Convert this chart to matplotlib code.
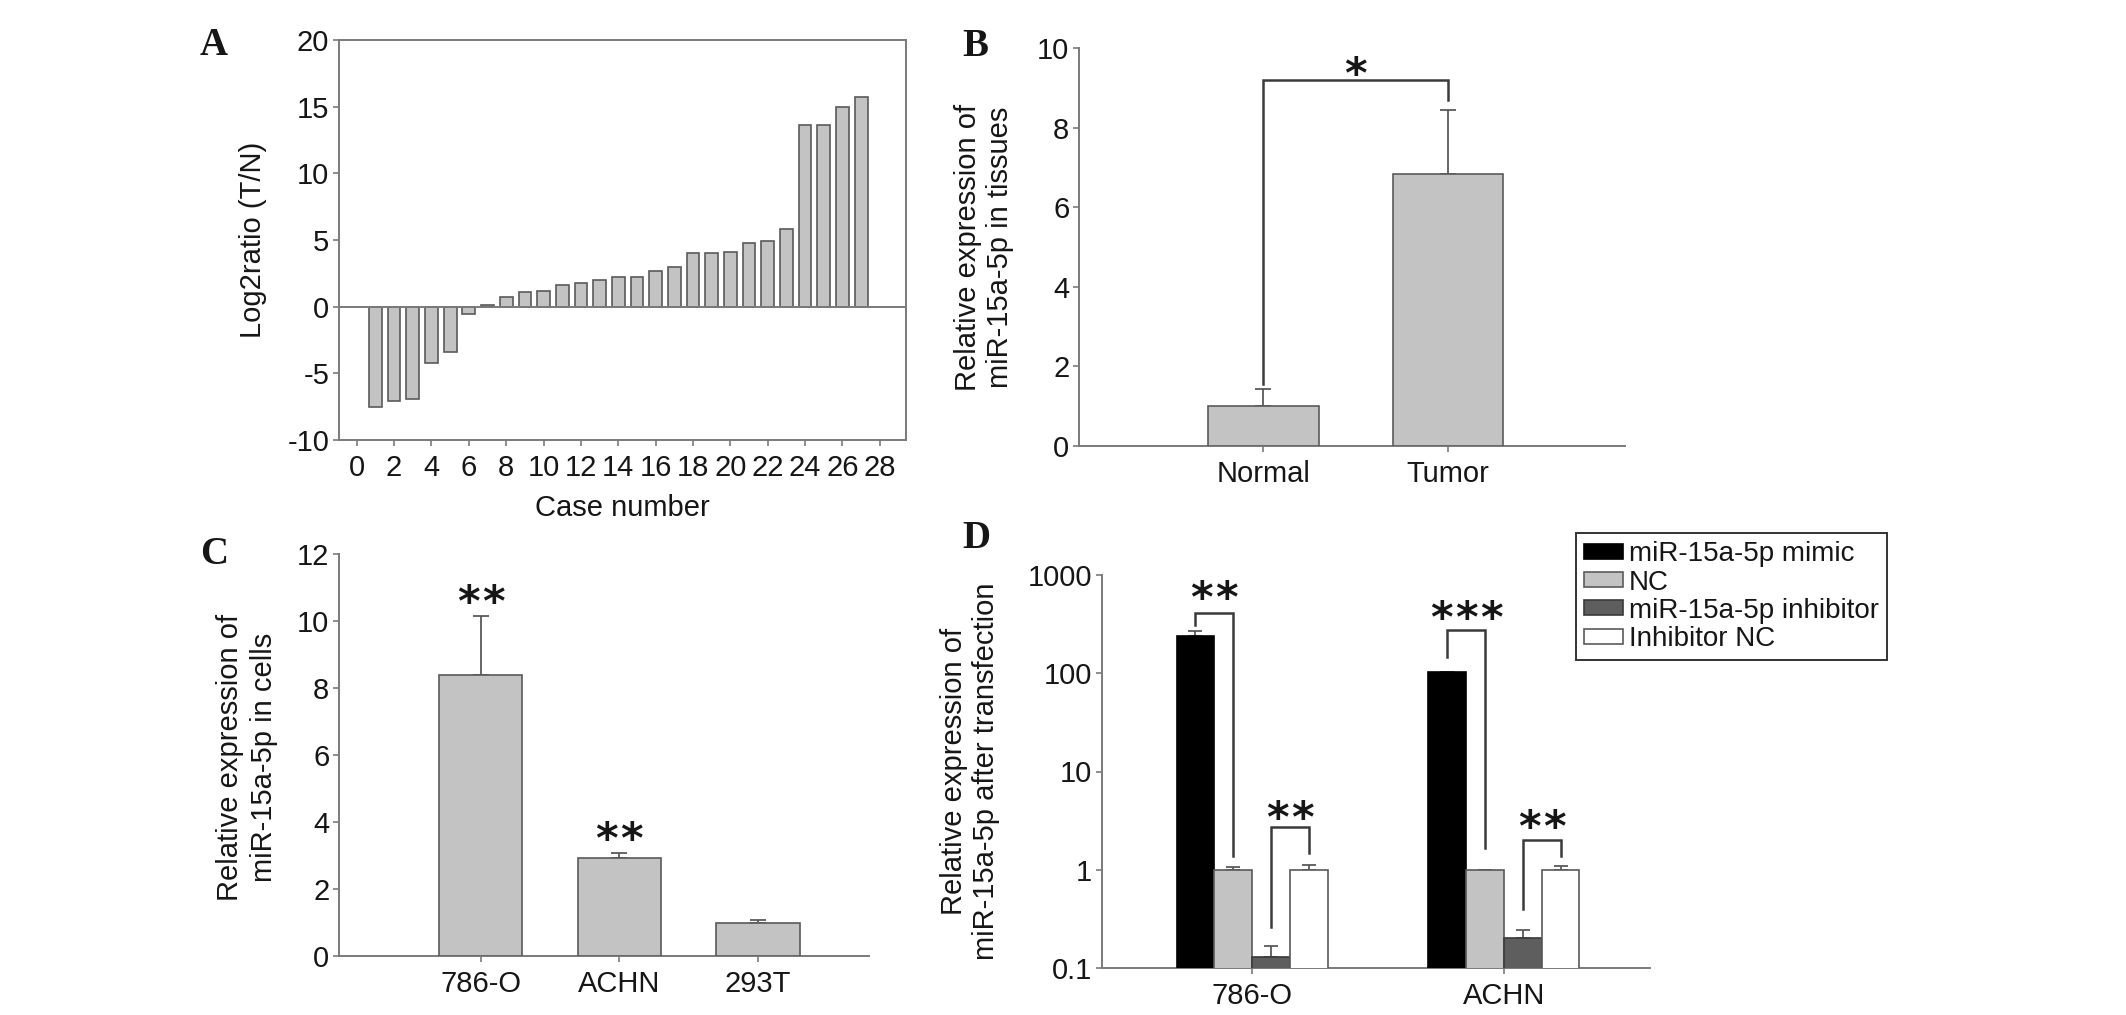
import matplotlib
matplotlib.use("Agg")
import matplotlib.pyplot as plt
from matplotlib.transforms import offset_copy
import numpy as np

plt.rcParams['font.family'] = ['Liberation Sans', 'DejaVu Sans']
plt.rcParams['axes.unicode_minus'] = False

W, H = 2126, 1015

# A: log2 ratio tumour / normal for each case
case_no = list(range(1, 28))
log2_ratio = [-7.5, -7.05, -6.95, -4.2, -3.4, -0.55, 0.1, 0.7, 1.1, 1.2,
              1.65, 1.8, 2.0, 2.2, 2.25, 2.65, 3.0, 4.0, 4.05, 4.1,
              4.8, 4.9, 5.8, 13.6, 13.6, 15.0, 15.7]

# B: tissues
tissues = ["Normal", "Tumor"]
tissue_mean = [1.0, 6.84]
tissue_err = [0.42, 1.6]

# C: cell lines
cells = ["786-O", "ACHN", "293T"]
cell_mean = [8.4, 2.93, 1.0]
cell_err = [1.75, 0.13, 0.06]
cell_sig = [2, 2, 0]

# D: after transfection (log scale)
lines_d = ["786-O", "ACHN"]
groups_d = ["miR-15a-5p mimic", "NC", "miR-15a-5p inhibitor", "Inhibitor NC"]
mimic = [240, 102]
mimic_err = [30, 0]
nc = [1.0, 1.0]
nc_err = [0.07, 0]
inhib = [0.13, 0.204]
inhib_err = [0.037, 0.04]
inhib_nc = [1.0, 1.0]
inhib_nc_err = [0.12, 0.1]

BAR = '#c3c3c3'
EDGE = '#5a5a5a'
SPINE = '#7a7a7a'
TXT = '#161616'
LINE = '#3a3a3a'
FS = 21

fig = plt.figure(figsize=(W / 100, H / 100), dpi=100)


def px_axes(left, top, right, bottom):
    return fig.add_axes([left / W, 1 - bottom / H, (right - left) / W, (bottom - top) / H])


def ftext(x, y, s, **kw):
    fig.text(x / W, 1 - y / H, s, color=TXT, **kw)


def style(ax, box=False):
    for side in ['left', 'bottom', 'top', 'right']:
        ax.spines[side].set_color(SPINE)
        ax.spines[side].set_linewidth(1.4)
    if not box:
        ax.spines['top'].set_visible(False)
        ax.spines['right'].set_visible(False)
    ax.tick_params(direction='out', length=4, width=1.2, color=SPINE,
                   labelsize=FS, labelcolor=TXT, pad=3)


def stars(ax, x, y, n, size=31, gap=18):
    # one asterisk per glyph, spaced apart; shifted so y is the star centre
    for i in range(n):
        dx = (i - (n - 1) / 2) * gap
        tr = offset_copy(ax.transData, fig=fig, x=dx, y=-0.58 * size, units='points')
        ax.text(x, y, "*", transform=tr, ha='center', va='baseline', fontsize=size,
                color=TXT, family='DejaVu Sans', fontweight='bold')


def bracket(ax, x1, y1, x2, y2, ytop):
    ax.plot([x1, x1, x2, x2], [y1, ytop, ytop, y2], color=LINE, lw=1.8, solid_joinstyle='miter')


def up_err(ax, x, y, e, cap=6):
    ax.errorbar(x, y, yerr=[np.zeros(len(e)), e], fmt='none', ecolor=EDGE,
                elinewidth=1.3, capsize=cap, capthick=1.3)


# ---- A ----
axA = px_axes(339, 40, 906, 440)
style(axA, box=True)
axA.bar(case_no, log2_ratio, width=0.68, color=BAR, edgecolor=EDGE, linewidth=1.2, zorder=3)
axA.axhline(0, color=SPINE, lw=1.4, zorder=4)
axA.set_xlim(-0.95, 29.4)
axA.set_ylim(-10, 20)
axA.set_xticks(range(0, 29, 2))
axA.set_yticks(range(-10, 21, 5))
axA.tick_params(axis='x', pad=6)
ftext(214, 45, "A", fontsize=28, fontweight='bold', family='Liberation Serif', ha='center', va='center')
ftext(253, 240, "Log2ratio (T/N)", fontsize=FS, rotation=90, ha='center', va='center')
ftext(622, 508, "Case number", fontsize=FS, ha='center', va='center')

# ---- B ----
axB = px_axes(1079, 48, 1625, 446)
style(axB)
xb = np.arange(1, len(tissues) + 1)
axB.bar(xb, tissue_mean, width=0.6, color=BAR, edgecolor=EDGE, linewidth=1.2, zorder=3)
up_err(axB, xb, tissue_mean, tissue_err, cap=6)
axB.set_xlim(0, 2.96)
axB.set_ylim(0, 10)
axB.set_yticks(range(0, 11, 2))
axB.set_xticks(xb)
axB.set_xticklabels(tissues)
axB.tick_params(axis='x', pad=6)
bracket(axB, 1, 1.55, 2, 8.69, 9.19)
stars(axB, 1.5, 9.62, 1)
ftext(975, 47, "B", fontsize=28, fontweight='bold', family='Liberation Serif', ha='center', va='center')
ftext(984, 247, "Relative expression of\nmiR-15a-5p in tissues", fontsize=FS, rotation=90,
      ha='center', va='center', linespacing=1.15)

# ---- C ----
axC = px_axes(339, 554, 869, 956)
style(axC)
xc = np.arange(1, len(cells) + 1)
axC.bar(xc, cell_mean, width=0.6, color=BAR, edgecolor=EDGE, linewidth=1.2, zorder=3)
up_err(axC, xc, cell_mean, cell_err, cap=6)
for xi, m, e, n in zip(xc, cell_mean, cell_err, cell_sig):
    if n:
        stars(axC, xi, m + e + 0.75, n)
axC.set_xlim(-0.02, 3.8)
axC.set_ylim(0, 12)
axC.set_yticks(range(0, 13, 2))
axC.set_xticks(xc)
axC.set_xticklabels(cells)
axC.tick_params(axis='x', pad=6)
ftext(214, 555, "C", fontsize=28, fontweight='bold', family='Liberation Serif', ha='center', va='center')
ftext(247, 757, "Relative expression of\nmiR-15a-5p in cells", fontsize=FS, rotation=90,
      ha='center', va='center', linespacing=1.25)

# ---- D ----
axD = px_axes(1102, 575, 1650, 968)
style(axD)
axD.set_yscale('log')
xd = np.arange(1, len(lines_d) + 1)
bw = 0.15
offs = [-1.5 * bw, -0.5 * bw, 0.5 * bw, 1.5 * bw]
series = [(mimic, mimic_err, '#000000', '#000000'),
          (nc, nc_err, BAR, EDGE),
          (inhib, inhib_err, '#5e5e5e', '#3a3a3a'),
          (inhib_nc, inhib_nc_err, '#ffffff', EDGE)]
for (vals, errs, fc, ec), off, name in zip(series, offs, groups_d):
    axD.bar(xd + off, vals, width=bw, bottom=1e-9, color=fc, edgecolor=ec,
            linewidth=1.2, zorder=3, label=name)
    up_err(axD, xd + off, vals, errs, cap=5)
axD.set_xlim(0.404, 2.58)
axD.set_ylim(0.1, 1000)
axD.minorticks_off()
axD.set_yticks([0.1, 1, 10, 100, 1000])
axD.set_yticklabels(["0.1", "1", "10", "100", "1000"])
axD.set_xticks(xd)
axD.set_xticklabels(lines_d)
axD.tick_params(axis='x', pad=6)

# significance brackets (786-O, ACHN)
bracket(axD, 1 + offs[0], 310, 1 + offs[1], 1.38, 415)
stars(axD, 1 - bw, 760, 2)
bracket(axD, 1 + offs[2], 0.26, 1 + offs[3], 1.48, 2.75)
stars(axD, 1 + bw, 4.4, 2)
bracket(axD, 2 + offs[0], 145, 2 + offs[1], 1.67, 275)
stars(axD, 2 - bw, 470, 3)
bracket(axD, 2 + offs[2], 0.40, 2 + offs[3], 1.38, 2.0)
stars(axD, 2 + bw, 3.5, 2)

leg = axD.legend(loc='upper left', bbox_to_anchor=(1576 / W, 1 - 533 / H),
                 bbox_transform=fig.transFigure, borderaxespad=0, fontsize=20,
                 handlelength=1.4, handleheight=0.45, handletextpad=0.2,
                 labelspacing=0.08, borderpad=0.3, fancybox=False, framealpha=1)
leg.get_frame().set_edgecolor('#333333')
leg.get_frame().set_linewidth(1.4)
for t in leg.get_texts():
    t.set_color(TXT)

ftext(976, 539, "D", fontsize=28, fontweight='bold', family='Liberation Serif', ha='center', va='center')
ftext(970, 771, "Relative expression of\nmiR-15a-5p after transfection", fontsize=FS, rotation=90,
      ha='center', va='center', linespacing=1.15)

fig.savefig("out.png", dpi=100, facecolor='white')
